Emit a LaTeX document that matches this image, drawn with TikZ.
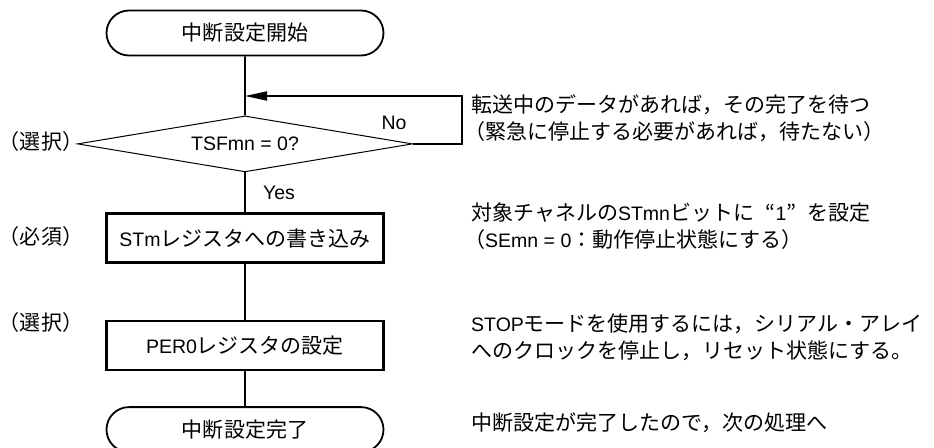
\documentclass[tikz,border=0pt]{standalone}
\usepackage{fontspec}
\setmainfont{Liberation Sans}
\newfontfamily\jp{Noto Sans CJK JP}[Scale=1.077]
\usetikzlibrary{arrows.meta,positioning,shapes.geometric,shapes.misc}

\begin{document}
\begin{tikzpicture}[x=1pt, y=-1pt,
  font=\fontsize{19.5}{27}\selectfont,
  term/.style={draw, rounded rectangle, line width=1.8pt, minimum width=277pt,
               minimum height=45pt, inner sep=0pt},
  proc/.style={draw, line width=2.4pt, minimum width=277pt, minimum height=49pt,
               inner sep=0pt},
  dec/.style={draw, diamond, aspect=6, line width=1pt, minimum width=335pt,
              minimum height=56pt, inner sep=0pt},
  side/.style={inner sep=0pt},
  note/.style={anchor=west, align=left, inner sep=0pt},
  flow/.style={line width=1.8pt},
  >={Triangle[length=22pt,width=9pt]}]
  \useasboundingbox (0,0) rectangle (934,447);

  \node[term] (start) at (245,33) {\jp 中断設定開始};
  \node[dec, below=59pt of start] (tsf) {TSFmn = 0?};
  \node[proc, below=40pt of tsf] (stm) {STm{\jp レジスタへの書き込み}};
  \node[proc, below=56pt of stm] (per) {PER0{\jp レジスタの設定}};
  \node[term, below=35pt of per] (done) {\jp 中断設定完了};

  % optional / required marks
  \node[side] (opt1) at (41,142) {\jp （選択）};
  \node[side] (req)  at (41,237) {\jp （必須）};
  \node[side] (opt2) at (41,323) {\jp （選択）};

  % comments on the right
  \node[note] (n1) at (471,118.5) {\jp 転送中のデータがあれば，その完了を待つ\\
    \hspace*{-7pt}\jp （緊急に停止する必要があれば，待たない）};
  \node[note] (n2) at (471,226.5) {{\jp 対象チャネルの}STmn{\jp ビットに\hspace{0.55em}“}1{\jp ”\hspace{0.55em}を設定}\\
    \hspace*{-7pt}{\jp （}SEmn = 0{\jp ：動作停止状態にする）}};
  \node[note] (n3) at (471,337) {STOP{\jp モードを使用するには，シリアル・アレイ}\\
    {\jp へのクロックを停止し，リセット状態にする。}};
  \node[note] (n4) at (471,423) {\jp 中断設定が完了したので，次の処理へ};

  \coordinate (loop) at (462,96);
  \coordinate (join) at (245,96);
  \draw[flow] (start) -- (tsf);
  \draw[flow, ->] (tsf.east) -| (loop) -- (join);
  \node (no) at (394,123) {No};
  \draw[flow] (tsf) -- (stm);
  \node (yes) at (279,193) {Yes};
  \draw[flow] (stm) -- (per);
  \draw[flow] (per) -- (done);
\end{tikzpicture}
\end{document}
